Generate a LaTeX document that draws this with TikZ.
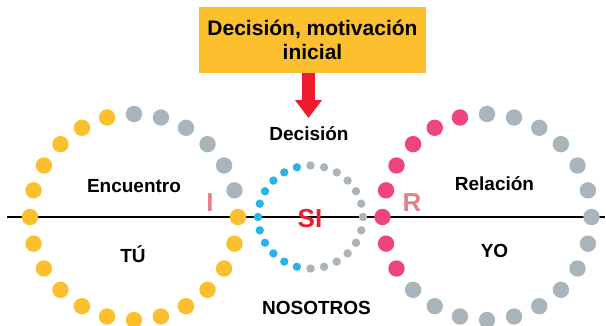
\documentclass[tikz,border=0pt]{standalone}
\usepackage{fontspec}
\setmainfont{Liberation Sans}
\usetikzlibrary{arrows.meta}
\definecolor{dotyellow}{HTML}{FCBF2D}
\definecolor{dotgray}{HTML}{AAB5BB}
\definecolor{dotpink}{HTML}{EE4582}
\definecolor{dotblue}{HTML}{27B4E6}
\definecolor{arrowred}{HTML}{ED1C2E}
\definecolor{lettercol}{HTML}{E2828A}
\begin{document}
\begin{tikzpicture}[x=1pt,y=1pt,
  lbl/.style={font=\fontsize{19}{23}\selectfont\bfseries, anchor=base, inner sep=0pt},
  bigl/.style={font=\fontsize{26}{30}\selectfont\bfseries, anchor=base, inner sep=0pt},
  titlebox/.style={fill=dotyellow, minimum width=227pt, minimum height=66pt, inner sep=0pt, align=center, font=\fontsize{21}{24}\selectfont\bfseries},
  bigdot/.style={radius=8.2pt},
  smalldot/.style={radius=4.2pt}]
\useasboundingbox (0,0) rectangle (606,325);
% horizontal axis
\coordinate (axl) at (7,108);
\coordinate (axr) at (605,108);
\draw[line width=1.2pt] (axl) -- (axr);
% left circle
\foreach \a in {0,15,...,345}{
  \pgfmathparse{(\a>=15 && \a<=90) ? 1 : 0}
  \ifnum\pgfmathresult=1 \def\c{dotgray}\else\def\c{dotyellow}\fi
  \fill[\c] ({134+104*cos(\a)},{108+103*sin(\a)}) circle[bigdot];
}
% right circle
\foreach \a in {0,15,...,345}{
  \pgfmathparse{(\a>=105 && \a<=210) ? 1 : 0}
  \ifnum\pgfmathresult=1 \def\c{dotpink}\else\def\c{dotgray}\fi
  \fill[\c] ({487+104.5*cos(\a)},{108+103*sin(\a)}) circle[bigdot];
}
% middle circle
\foreach \a in {0,15,...,345}{
  \pgfmathparse{(\a>=105 && \a<=255) ? 1 : 0}
  \ifnum\pgfmathresult=1 \def\c{dotblue}\else\def\c{dotgray}\fi
  \fill[\c] ({310.5+52.5*cos(\a)},{108+51.5*sin(\a)}) circle[smalldot];
}
% title and arrow
\node[titlebox] (title) at (312.5,285) {Decisión, motivación\\inicial};
\coordinate (arrs) at (308.5,252);
\coordinate (arre) at (308.5,207);
\draw[arrowred, line width=13pt, -{Triangle[width=26pt,length=18pt]}] (arrs) -- (arre);
% labels
\node[lbl] (decision) at (309,185) {Decisión};
\node[lbl] (encuentro) at (134,133) {Encuentro};
\node[lbl] (relacion) at (494.5,135) {Relación};
\node[lbl] (tu) at (133,63) {TÚ};
\node[lbl] (yo) at (494.5,68) {YO};
\node[lbl] (nosotros) at (316.5,11) {NOSOTROS};
\node[bigl, text=arrowred] (si) at (310,98) {SI};
\node[bigl, text=lettercol] (li) at (210,114) {I};
\node[bigl, text=lettercol] (lr) at (412,114) {R};
\end{tikzpicture}
\end{document}
